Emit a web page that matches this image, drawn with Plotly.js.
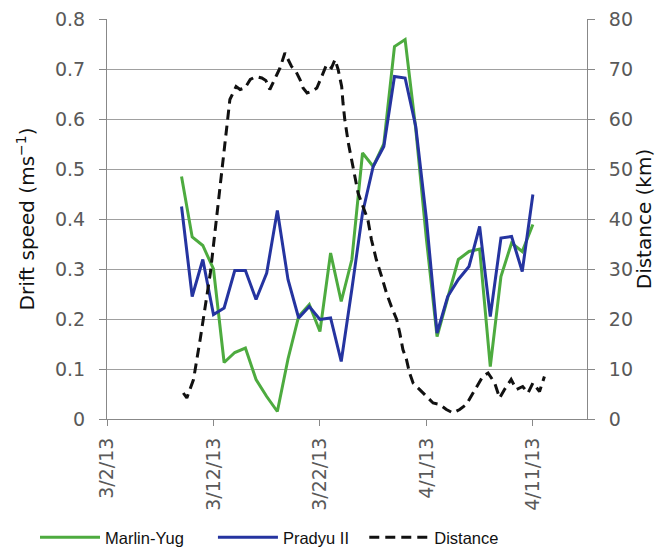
<!DOCTYPE html>
<html>
<head>
<meta charset="utf-8">
<script src="https://cdn.plot.ly/plotly-3.0.1.min.js"></script>
<style>html,body{margin:0;padding:0;background:#fff;}#chart{width:656px;height:552px;}</style>
</head>
<body>
<div id="chart"></div>
<script>
// Daily drift speed dates (3/9/13 .. 4/11/13)
const speedDates = [
  "2013-03-09","2013-03-10","2013-03-11","2013-03-12","2013-03-13","2013-03-14","2013-03-15",
  "2013-03-16","2013-03-17","2013-03-18","2013-03-19","2013-03-20","2013-03-21","2013-03-22",
  "2013-03-23","2013-03-24","2013-03-25","2013-03-26","2013-03-27","2013-03-28","2013-03-29",
  "2013-03-30","2013-03-31","2013-04-01","2013-04-02","2013-04-03","2013-04-04","2013-04-05",
  "2013-04-06","2013-04-07","2013-04-08","2013-04-09","2013-04-10","2013-04-11"
];
const marlinYug = [
  0.485,0.364,0.347,0.300,0.113,0.133,0.142,
  0.079,0.045,0.015,0.120,0.205,0.229,0.175,
  0.332,0.235,0.319,0.532,0.505,0.550,0.745,
  0.759,0.580,0.360,0.165,0.240,0.319,0.335,
  0.340,0.105,0.285,0.352,0.335,0.389
];
const pradyuII = [
  0.425,0.245,0.319,0.209,0.222,0.297,0.297,
  0.239,0.292,0.417,0.279,0.202,0.225,0.199,
  0.202,0.115,0.260,0.412,0.505,0.545,0.685,
  0.682,0.585,0.400,0.172,0.245,0.279,0.305,
  0.385,0.205,0.362,0.365,0.295,0.449
];
// Distance between buoys (km)
const distTimes = [
  "2013-03-09 04:00","2013-03-09 12:00","2013-03-10 03:00","2013-03-10 18:00","2013-03-11 17:00",
  "2013-03-12 15:00","2013-03-13 06:00","2013-03-13 13:00","2013-03-14 03:00","2013-03-14 12:00",
  "2013-03-14 23:00","2013-03-15 11:00","2013-03-16 00:00","2013-03-16 13:00","2013-03-16 22:00",
  "2013-03-17 07:00","2013-03-17 23:00","2013-03-18 06:00","2013-03-18 17:00","2013-03-19 08:00",
  "2013-03-19 18:00","2013-03-20 03:00","2013-03-20 10:00","2013-03-20 19:00","2013-03-21 05:00",
  "2013-03-21 17:00","2013-03-22 04:00","2013-03-22 15:00","2013-03-23 02:00","2013-03-23 10:00",
  "2013-03-23 17:00","2013-03-24 01:00","2013-03-24 04:00","2013-03-24 08:00","2013-03-24 16:00",
  "2013-03-24 23:00","2013-03-25 07:00","2013-03-25 14:00","2013-03-26 01:00","2013-03-26 12:00",
  "2013-03-26 20:00","2013-03-27 07:00","2013-03-27 19:00","2013-03-28 06:00","2013-03-28 17:00",
  "2013-03-29 05:00","2013-03-29 12:00","2013-03-29 19:00","2013-03-30 03:00","2013-03-30 10:00",
  "2013-03-30 18:00","2013-03-31 09:00","2013-04-01 00:00","2013-04-01 15:00","2013-04-02 06:00",
  "2013-04-02 21:00","2013-04-03 12:00","2013-04-04 03:00","2013-04-04 18:00","2013-04-05 05:00",
  "2013-04-05 17:00","2013-04-06 07:00","2013-04-06 19:00","2013-04-07 02:00","2013-04-07 10:00",
  "2013-04-07 21:00","2013-04-08 08:00","2013-04-08 23:00","2013-04-09 11:00","2013-04-10 01:00",
  "2013-04-10 13:00","2013-04-11 00:00","2013-04-11 15:00","2013-04-12 02:00"
];
const distanceKm = [
  5.2,4.2,7.9,15.9,29.2,
  46.5,58.5,63.9,66.5,65.9,
  66.2,67.9,68.5,68.2,67.7,
  65.9,68.9,70.2,73.2,70.5,
  69.5,67.9,66.2,65.2,65.5,
  66.2,68.5,70.9,70.2,71.9,
  69.9,66.5,63.2,59.9,55.2,
  51.9,48.5,45.2,42.5,39.9,
  35.9,31.9,28.5,25.2,22.5,
  19.9,17.2,13.9,11.9,9.2,
  7.2,5.9,4.5,3.2,2.9,
  1.9,1.2,1.9,2.9,4.5,
  6.5,8.5,9.2,8.2,7.2,
  4.2,5.9,7.9,5.9,6.5,
  5.2,7.2,5.5,8.5
];
const xTickVals = ["2013-03-02","2013-03-12","2013-03-22","2013-04-01","2013-04-11"];
const xTickText = ["3/2/13","3/12/13","3/22/13","4/1/13","4/11/13"];
const xRange = ["2013-03-02","2013-04-16 02:00"];

const traces = [
  {x: speedDates, y: marlinYug, name: "Marlin-Yug", type: "scatter", mode: "lines", legend: "legend",
   line: {color: "#4dab3f", width: 3}},
  {x: speedDates, y: pradyuII, name: "Pradyu II", type: "scatter", mode: "lines", legend: "legend2",
   line: {color: "#2534a0", width: 3}},
  {x: distTimes, y: distanceKm, name: "Distance", type: "scatter", mode: "lines", yaxis: "y2", legend: "legend3",
   line: {color: "#111111", width: 3, dash: "10px,6px"}}
];

const tickFont = {family: "DejaVu Sans, sans-serif", size: 19, color: "#595959"};
const titleFont = {family: "DejaVu Sans, sans-serif", size: 20, color: "#111"};
const legFont = {family: "Liberation Sans, Arial, sans-serif", size: 16.5, color: "#111"};
const legBase = {orientation: "h", xanchor: "left", yref: "container", y: 0.026, yanchor: "middle",
                 font: legFont, itemwidth: 60, bgcolor: "rgba(0,0,0,0)"};
const layout = {
  width: 656, height: 552,
  margin: {l: 107, r: 69, t: 19, b: 133},
  paper_bgcolor: "#fff", plot_bgcolor: "#fff",
  showlegend: true,
  legend: Object.assign({}, legBase, {x: -0.15}),
  legend2: Object.assign({}, legBase, {x: 0.2207}),
  legend3: Object.assign({}, legBase, {x: 0.536}),
  xaxis: {type: "date", range: xRange, tickmode: "array", tickvals: xTickVals, ticktext: xTickText,
          tickangle: -90, ticks: "outside", ticklen: 6, tickcolor: "#888", ticklabelstandoff: 4,
          showline: true, linecolor: "#888", linewidth: 1, showgrid: false, zeroline: false,
          tickfont: tickFont},
  yaxis: {range: [0, 0.8], dtick: 0.1, ticks: "outside", ticklen: 7, tickcolor: "#888",
          ticklabelstandoff: 10,
          showline: true, linecolor: "#888", linewidth: 1,
          showgrid: true, gridcolor: "#a0a0a0", gridwidth: 1, zeroline: false,
          tickfont: tickFont,
          title: {text: "Drift speed (ms<sup>−1</sup>)", standoff: 14, font: titleFont}},
  yaxis2: {range: [0, 80], dtick: 10, overlaying: "y", side: "right", ticks: "outside", ticklen: 7,
           tickcolor: "#888", showline: true, linecolor: "#888", linewidth: 1, ticklabelstandoff: 10,
           showgrid: false, zeroline: false, tickfont: tickFont,
           title: {text: "Distance (km)", standoff: 10, font: titleFont}}
};

Plotly.newPlot("chart", traces, layout, {displayModeBar: false, staticPlot: true});
</script>
</body>
</html>
